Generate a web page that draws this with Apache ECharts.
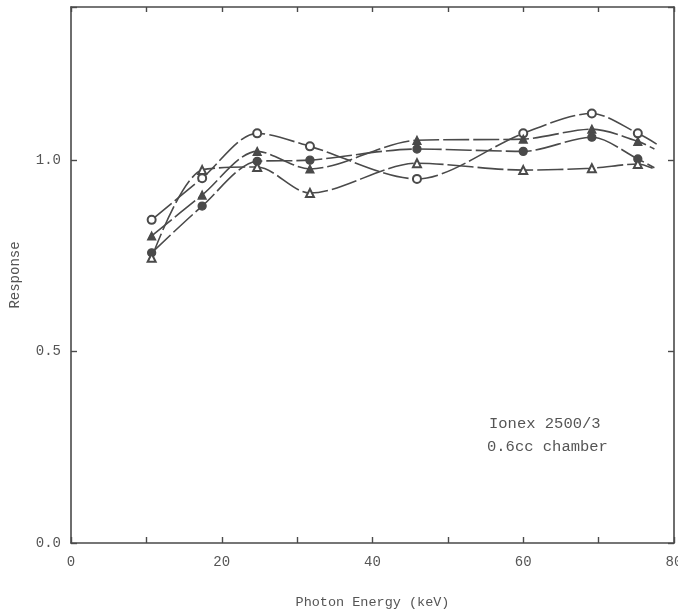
<!DOCTYPE html>
<html><head><meta charset="utf-8">
<script src="https://cdn.jsdelivr.net/npm/echarts@6/dist/echarts.min.js"></script>
<style>html,body{margin:0;padding:0;background:#fff}#c{width:678px;height:611px}</style>
</head><body><div id="c"></div>
<script>
const energies = [10.7, 17.4, 24.7, 31.7, 45.9, 60.0, 69.1, 75.2];
const openCircle   = [0.844, 0.953, 1.070, 1.036, 0.951, 1.070, 1.122, 1.070];
const filledTri    = [0.802, 0.909, 1.023, 0.977, 1.052, 1.055, 1.081, 1.049];
const filledCircle = [0.758, 0.880, 0.997, 1.000, 1.029, 1.023, 1.060, 1.003];
const openTri      = [0.745, 0.974, 0.982, 0.914, 0.992, 0.974, 0.979, 0.990];
// curve ends (unmarked)
const endX = [77.7, 77.4, 77.4, 77.6];
const endY = [1.042, 1.029, 0.980, 0.975];
const xTicks = ['0', '20', '40', '60', '80'];
const yTicks = ['0.0', '0.5', '1.0'];
const note = ['Ionex 2500/3', '0.6cc chamber'];

const ink = '#4a4a4a';
const font = "'Liberation Mono', 'DejaVu Sans Mono', monospace";
function mk(vals, i, sym, name) {
  const d = vals.map((v, k) => [energies[k], v]);
  d.push({value: [endX[i], endY[i]], symbol: 'none'});
  return {
    name, type: 'line', data: d, smooth: 0.3, symbol: sym, symbolSize: 8,
    lineStyle: {color: ink, width: 1.6, type: [26, 4]},
    itemStyle: {color: ink, borderColor: ink, borderWidth: 1.3},
    z: 3
  };
}
const axLine = {show: true, onZero: false, lineStyle: {color: ink, width: 1.6}};
const chart = echarts.init(document.getElementById('c'));
chart.setOption({
  animation: false,
  grid: {left: 71, right: 4, top: 7, bottom: 68, containLabel: false, outerBoundsMode: 'none'},
  xAxis: [{
    type: 'value', min: 0, max: 80, interval: 10, position: 'bottom',
    name: 'Photon Energy (keV)', nameLocation: 'middle', nameGap: 52,
    nameTextStyle: {fontFamily: font, fontSize: 13.5, color: '#555'},
    axisLine: axLine,
    axisTick: {inside: true, length: 6, lineStyle: {color: ink, width: 1.4}},
    axisLabel: {margin: 12, fontFamily: font, fontSize: 14, color: '#555',
      formatter: v => (v % 20 === 0 ? xTicks[v / 20] : '')},
    splitLine: {show: false}
  }, {
    type: 'value', min: 0, max: 80, interval: 10, position: 'top',
    axisLine: axLine,
    axisTick: {inside: true, length: 5, lineStyle: {color: ink, width: 1.4}},
    axisLabel: {show: false}, splitLine: {show: false}
  }],
  yAxis: [{
    type: 'value', min: 0, max: 1.4, interval: 0.5, position: 'left',
    name: 'Response', nameLocation: 'middle', nameGap: 49,
    nameTextStyle: {fontFamily: font, fontSize: 14, color: '#555'},
    axisLine: axLine,
    axisTick: {show: true, inside: true, length: 6, lineStyle: {color: ink, width: 1.4}},
    axisLabel: {margin: 10, fontFamily: font, fontSize: 14, color: '#555',
      formatter: v => yTicks[Math.round(v / 0.5)] || ''},
    splitLine: {show: false}
  }, {
    type: 'value', min: 0, max: 1.4, interval: 0.5, position: 'right',
    axisLine: axLine,
    axisTick: {show: true, inside: true, length: 6, lineStyle: {color: ink, width: 1.4}},
    axisLabel: {show: false}, splitLine: {show: false}
  }],
  series: [
    mk(openCircle, 0, 'emptyCircle', 'open circle'),
    mk(filledTri, 1, 'triangle', 'filled triangle'),
    mk(filledCircle, 2, 'circle', 'filled circle'),
    mk(openTri, 3, 'emptyTriangle', 'open triangle')
  ],
  graphic: [
    {type: 'text', left: 489, top: 416, style: {text: note[0], font: "15.5px " + font, fill: '#555'}},
    {type: 'text', left: 487, top: 439, style: {text: note[1], font: "15.5px " + font, fill: '#555'}}
  ]
});
</script></body></html>
